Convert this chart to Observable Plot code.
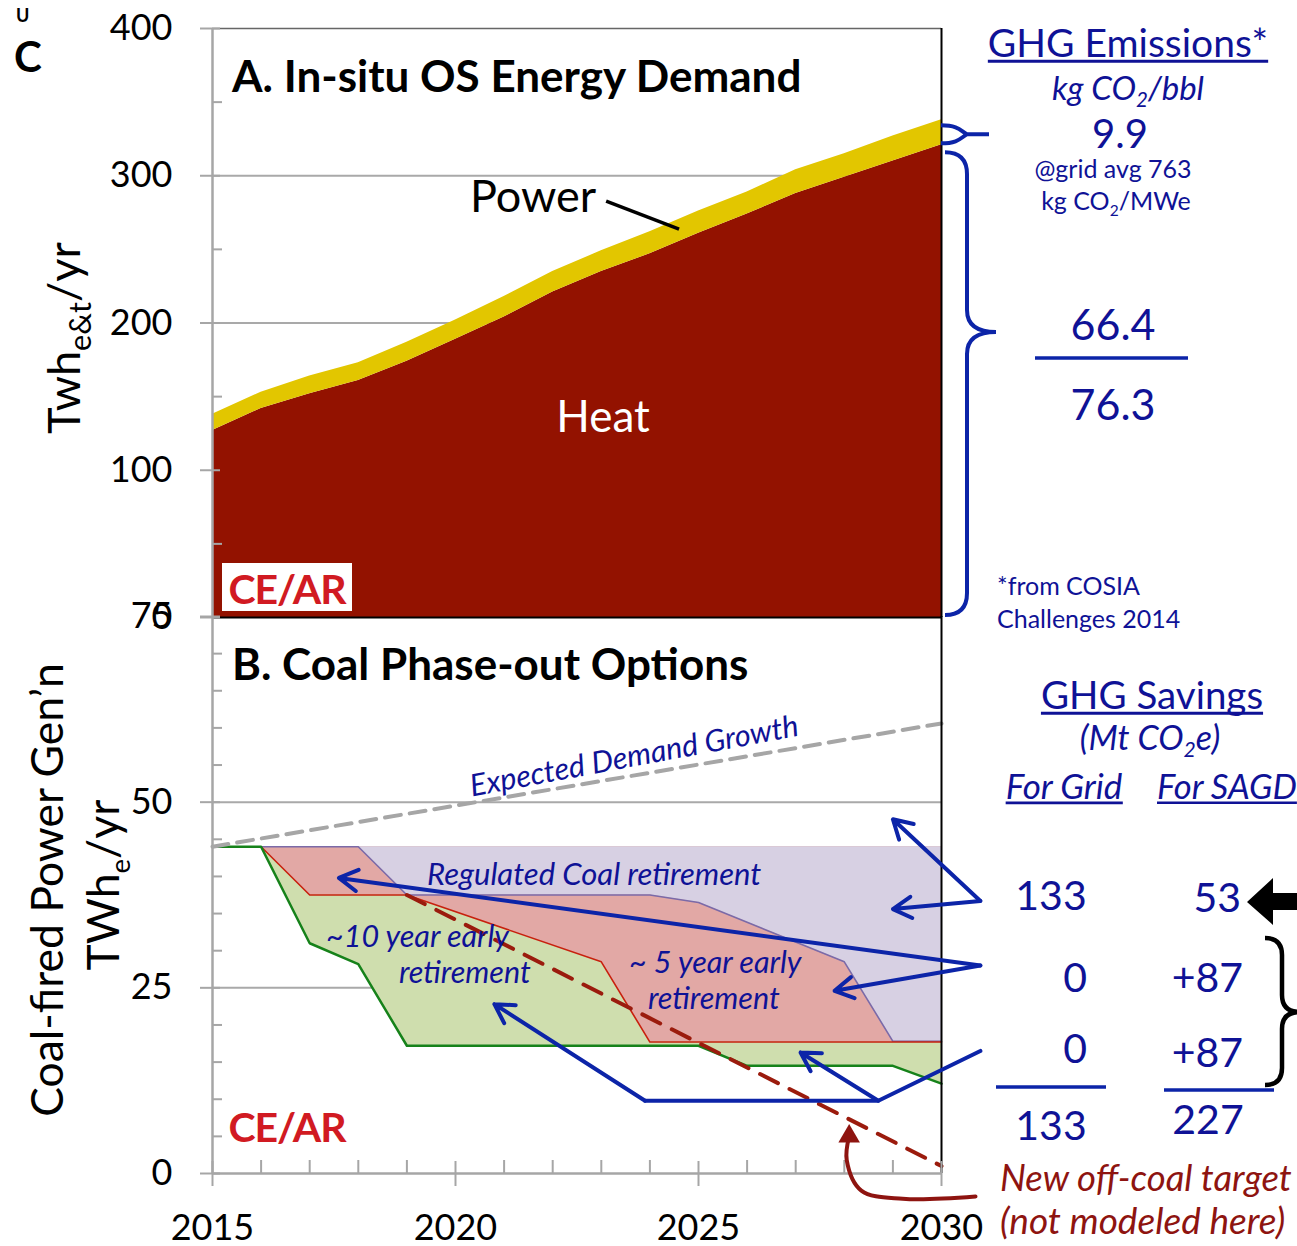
<!DOCTYPE html>
<html><head><meta charset="utf-8">
<script src="https://cdn.jsdelivr.net/npm/d3@7"></script>
<script src="https://cdn.jsdelivr.net/npm/@observablehq/plot@0.6"></script>
<style>
html,body{margin:0;padding:0;background:#fff;overflow:hidden;}
#wrap{position:relative;width:1297px;height:1246px;}
#wrap svg{position:absolute;left:0;top:0;}
</style></head><body><div id="wrap"></div>
<script>
// ---------- Panel A data: In-situ oil sands energy demand (TWh/yr) ----------
const years = [2015,2016,2017,2018,2019,2020,2021,2022,2023,2024,2025,2026,2027,2028,2029,2030];
const heatTWh = [127,142,152,161,174,189,204,221,235,247,261,274,288,299,310,321];
const powerTWh = [11,11,12,12,13,13,14,14,14,15,15,15,16,16,17,17];
const yTicksA = [0,100,200,300,400];
const yMinorA = [50,150,250,350];

// ---------- Panel B data: coal-fired power generation (TWhe/yr) ----------
const baseCoal = 44;
const regYears = [2015,2016,2018,2019,2024,2025,2028,2029,2030];
const regulatedCoal = [44,44,44,37.5,37.5,36.5,28.5,17.8,17.8];
const early5Years = [2015,2016,2017,2019,2023,2024,2030];
const early5Coal = [44,44,37.5,37.5,28.5,17.7,17.7];
const early10Years = [2015,2016,2017,2018,2019,2025,2026,2029,2030];
const early10Coal = [44,44,31,28.2,17.2,17.2,14.5,14.5,12.1];
const demandYears = [2015,2030];
const demandGrowth = [44,60.6];
const targetYears = [2019,2030];
const offCoalTarget = [37.5,1];
const yTicksB = [0,25,50,75];
const yMinorB = [5,10,15,20,30,35,40,45,55,60,65,70];
const xTicks = [2015,2020,2025,2030];
const xMinor = [2016,2017,2018,2019,2021,2022,2023,2024,2026,2027,2028,2029];

// ---------- annotation geometry (data coordinates) ----------
const powerPointer = {x1:2023.1, y1:282.7, x2:2024.6, y2:263.7};
const blueArrows = [
  {x1:2030.8, y1:36.7, x2:2029.0, y2:47.7},
  {x1:2030.8, y1:36.7, x2:2029.0, y2:35.6},
  {x1:2030.8, y1:28.0, x2:2017.6, y2:39.8},
  {x1:2030.8, y1:28.0, x2:2027.8, y2:24.6},
  {x1:2023.9, y1:9.8, x2:2020.8, y2:22.8},
  {x1:2028.7, y1:9.8, x2:2027.1, y2:16.3}
];
const bluePath = [{x:2030.8,y:16.5},{x:2028.7,y:9.8},{x:2023.9,y:9.8}];
const redCurve = [{x:2030.7,y:-3.1},{x:2029.2,y:-3.4},{x:2028.35,y:-2.3},{x:2028.05,y:1.8},{x:2028.1,y:5.0}];

// ---------- styles ----------
const W = 1297, H = 1246;
const FONT = "Lato, 'Open Sans', sans-serif";
const AXIS = "#a6a6a6", GRID = "#a9a9a9";
const HEAT = "#931200", POWER = "#e2c600";
const LAV = "#d7d0e3", PINK = "#e2a8a5", GREENF = "#cfdeae";
const PURP = "#7b6aa8", RED = "#c8200e", GREEN = "#16821a";
const BLUE_T = "#0f1296", BLUE_A = "#0c24a8", DRED = "#8e1410", DASHRED = "#9b1b0d";
const LOGO = "#d11a22";

const wrap = document.getElementById("wrap");

const topPlot = Plot.plot({
  width: W, height: H, marginLeft: 212, marginRight: 356, marginTop: 28, marginBottom: H - 617,
  style: {background: "transparent", overflow: "visible", fontFamily: FONT},
  x: {domain: [2015, 2030], axis: null},
  y: {domain: [0, 400], axis: null},
  marks: [
    Plot.ruleY([100, 200, 300], {stroke: GRID, strokeWidth: 2}),
    Plot.ruleY([400], {stroke: "#666", strokeWidth: 1.5}),
    Plot.areaY(years, {x: d => d, y1: 0, y2: (d, i) => heatTWh[i], fill: HEAT}),
    Plot.areaY(years, {x: d => d, y1: (d, i) => heatTWh[i], y2: (d, i) => heatTWh[i] + powerTWh[i], fill: POWER}),
    Plot.ruleX([2030], {stroke: "#000", strokeWidth: 2}),
    Plot.ruleY([0], {stroke: "#000", strokeWidth: 2}),
    Plot.ruleX([2015], {stroke: AXIS, strokeWidth: 2.5}),
    Plot.axisY(yTicksA, {anchor: "left", tickSize: 20, dx: 8, stroke: AXIS, strokeWidth: 2, fill: "none"}),
    Plot.axisY(yMinorA, {anchor: "left", tickSize: 10, dx: 10, stroke: AXIS, strokeWidth: 2, fill: "none"}),
    Plot.axisY(yTicksA, {anchor: "left", tickSize: 0, tickPadding: 40, fontSize: 36, fill: "#000", label: null}),
    Plot.link([powerPointer], {x1: "x1", y1: "y1", x2: "x2", y2: "y2", stroke: "#000", strokeWidth: 3.5})
  ]
});
wrap.appendChild(topPlot);

const botPlot = Plot.plot({
  width: W, height: H, marginLeft: 212, marginRight: 356, marginTop: 616, marginBottom: H - 1173,
  style: {background: "transparent", overflow: "visible", fontFamily: FONT},
  x: {domain: [2015, 2030], axis: null},
  y: {domain: [0, 75], axis: null},
  marks: [
    Plot.ruleY([25, 50], {stroke: GRID, strokeWidth: 2}),
    Plot.areaY(early10Years, {x: d => d, y1: (d, i) => early10Coal[i], y2: baseCoal, fill: GREENF}),
    Plot.areaY(early5Years, {x: d => d, y1: (d, i) => early5Coal[i], y2: baseCoal, fill: PINK}),
    Plot.areaY(regYears, {x: d => d, y1: (d, i) => regulatedCoal[i], y2: baseCoal, fill: LAV}),
    Plot.line(regYears, {x: d => d, y: (d, i) => regulatedCoal[i], stroke: PURP, strokeWidth: 1.6}),
    Plot.line(early5Years, {x: d => d, y: (d, i) => early5Coal[i], stroke: RED, strokeWidth: 1.6}),
    Plot.line(early10Years, {x: d => d, y: (d, i) => early10Coal[i], stroke: GREEN, strokeWidth: 2.5}),
    Plot.line(demandYears, {x: d => d, y: (d, i) => demandGrowth[i], stroke: "#a6a6a6", strokeWidth: 4, strokeDasharray: "16,9"}),
    Plot.line(targetYears, {x: d => d, y: (d, i) => offCoalTarget[i], stroke: DASHRED, strokeWidth: 4, strokeDasharray: "20,13"}),
    Plot.ruleX([2030], {stroke: "#000", strokeWidth: 2}),
    Plot.ruleX([2015], {stroke: AXIS, strokeWidth: 2.5}),
    Plot.ruleY([0], {stroke: AXIS, strokeWidth: 2.5}),
    Plot.axisY(yTicksB, {anchor: "left", tickSize: 20, dx: 8, stroke: AXIS, strokeWidth: 2, fill: "none"}),
    Plot.axisY(yMinorB, {anchor: "left", tickSize: 10, dx: 10, stroke: AXIS, strokeWidth: 2, fill: "none"}),
    Plot.axisY(yTicksB, {anchor: "left", tickSize: 0, tickPadding: 40, fontSize: 36, fill: "#000", label: null}),
    Plot.axisX(xTicks, {anchor: "bottom", tickSize: 25, dy: -12, stroke: AXIS, strokeWidth: 2, fill: "none"}),
    Plot.axisX(xMinor, {anchor: "bottom", tickSize: 13, dy: -13, stroke: AXIS, strokeWidth: 2, fill: "none"}),
    Plot.axisX(xTicks, {anchor: "bottom", tickSize: 0, tickPadding: 41, fontSize: 36, fill: "#000", label: null, tickFormat: d => String(d)}),
    Plot.arrow(blueArrows, {x1: "x1", y1: "y1", x2: "x2", y2: "y2", stroke: BLUE_A, strokeWidth: 4}),
    Plot.line(bluePath, {x: "x", y: "y", stroke: BLUE_A, strokeWidth: 4}),
    Plot.line(redCurve, {x: "x", y: "y", curve: "catmull-rom", stroke: DRED, strokeWidth: 4}),
    Plot.dot([redCurve[redCurve.length - 1]], {x: "x", y: "y", symbol: "triangle", r: 8, fill: DRED, stroke: null})
  ]
});
wrap.appendChild(botPlot);

// ---------- text helper ----------
function addText(svg, o) {
  const {x, y, parts, size = 36, anchor = "start", weight = "normal", italic = false,
         fill = "#000", rotate = 0, underline = false, spacing = 0, sub = 0.62, subShift = 0.25} = o;
  const g = d3.select(svg);
  const t = g.append("text").attr("x", x).attr("y", y)
    .attr("font-family", FONT).attr("font-size", size).attr("font-weight", weight)
    .attr("font-style", italic ? "italic" : "normal").attr("fill", fill)
    .attr("text-anchor", anchor).attr("letter-spacing", spacing);
  if (rotate) t.attr("transform", `rotate(${rotate},${x},${y})`);
  const segs = typeof parts === "string" ? [parts] : parts;
  let shifted = false;
  for (const s of segs) {
    if (Array.isArray(s)) {
      t.append("tspan").attr("font-size", size * sub).attr("dy", size * subShift).text(s[0]);
      shifted = true;
    } else {
      const ts = t.append("tspan").text(s);
      if (shifted) { ts.attr("dy", -size * subShift); shifted = false; }
    }
  }
  if (underline) {
    const bb = t.node().getBBox();
    g.append("line").attr("x1", bb.x).attr("x2", bb.x + bb.width)
      .attr("y1", y + size * 0.11).attr("y2", y + size * 0.11)
      .attr("stroke", fill).attr("stroke-width", size * 0.075);
  }
  return t;
}

// ---------- Panel A annotations ----------
const sA = d3.select(topPlot);
addText(topPlot, {x: 14, y: 72, parts: "C", size: 42, weight: "bold"});
addText(topPlot, {x: 16, y: 22, parts: "U", size: 18, weight: "bold"});
addText(topPlot, {x: 232, y: 92, parts: "A. In-situ OS Energy Demand", size: 44, weight: "bold"});
addText(topPlot, {x: 470, y: 212, parts: "Power", size: 45});
addText(topPlot, {x: 603, y: 432, parts: "Heat", size: 44, anchor: "middle", fill: "#fff"});
addText(topPlot, {x: 80, y: 338, parts: ["Twh", ["e&t"], "/yr"], size: 45, anchor: "middle", rotate: -90, sub: 0.68});
sA.append("rect").attr("x", 222).attr("y", 563).attr("width", 130).attr("height", 48).attr("fill", "#fff");
addText(topPlot, {x: 287, y: 604, parts: "CE/AR", size: 41, weight: "bold", fill: LOGO, anchor: "middle", spacing: -1});

// braces from the scales
const sx = topPlot.scale("x"), sy = topPlot.scale("y");
const x0 = sx.apply(2030);
const yTot = sy.apply(heatTWh[15] + powerTWh[15]) + 6;
const yHeat = sy.apply(heatTWh[15]) - 1;
const ym = (yTot + yHeat) / 2;
sA.append("path")
  .attr("d", `M${x0},${yTot} C${x0+18},${yTot} ${x0+20},${ym-3} ${x0+26},${ym} L${x0+48},${ym} M${x0},${yHeat} C${x0+18},${yHeat} ${x0+20},${ym+3} ${x0+26},${ym}`)
  .attr("fill", "none").attr("stroke", BLUE_A).attr("stroke-width", 4);
const bt = sy.apply(heatTWh[15]) + 8, bb = sy.apply(0) - 2, tip = 332, vx = x0 + 26;
sA.append("path")
  .attr("d", `M${x0+4},${bt} Q${vx},${bt} ${vx},${bt+22} L${vx},${tip-22} Q${vx},${tip} ${x0+55},${tip} Q${vx},${tip} ${vx},${tip+22} L${vx},${bb-22} Q${vx},${bb} ${x0+4},${bb}`)
  .attr("fill", "none").attr("stroke", BLUE_A).attr("stroke-width", 4);

addText(topPlot, {x: 1128, y: 57, parts: "GHG Emissions*", size: 39, anchor: "middle", fill: BLUE_T, underline: true});
addText(topPlot, {x: 1128, y: 100, parts: ["kg CO", ["2"], "/bbl"], size: 33, italic: true, anchor: "middle", fill: BLUE_T, subShift: 0.2});
addText(topPlot, {x: 1120, y: 148, parts: "9.9", size: 40, anchor: "middle", fill: BLUE_T});
addText(topPlot, {x: 1113, y: 178, parts: "@grid avg 763", size: 25, anchor: "middle", fill: BLUE_T});
addText(topPlot, {x: 1116, y: 210, parts: ["kg CO", ["2"], "/MWe"], size: 25, anchor: "middle", fill: BLUE_T});
addText(topPlot, {x: 1113, y: 340, parts: "66.4", size: 43, anchor: "middle", fill: BLUE_T});
sA.append("line").attr("x1", 1035).attr("x2", 1188).attr("y1", 358).attr("y2", 358).attr("stroke", BLUE_A).attr("stroke-width", 3.5);
addText(topPlot, {x: 1113, y: 420, parts: "76.3", size: 43, anchor: "middle", fill: BLUE_T});
addText(topPlot, {x: 997, y: 595, parts: "*from COSIA", size: 25, fill: BLUE_T});
addText(topPlot, {x: 997, y: 628, parts: "Challenges 2014", size: 25, fill: BLUE_T});

// ---------- Panel B annotations ----------
const sB = d3.select(botPlot);
addText(botPlot, {x: 232, y: 680, parts: "B. Coal Phase-out Options", size: 44, weight: "bold"});
addText(botPlot, {x: 63, y: 890, parts: "Coal-fired Power Gen\u2019n", size: 44.5, anchor: "middle", rotate: -90});
addText(botPlot, {x: 119, y: 885, parts: ["TWh", ["e"], "/yr"], size: 44.5, anchor: "middle", rotate: -90});
addText(botPlot, {x: 636, y: 766, parts: "Expected Demand Growth", size: 30.5, italic: true, anchor: "middle", fill: BLUE_T, rotate: -10.5});
addText(botPlot, {x: 427, y: 885, parts: "Regulated Coal retirement", size: 31, italic: true, fill: BLUE_T});
addText(botPlot, {x: 326, y: 947, parts: "~10 year early", size: 30.5, italic: true, fill: BLUE_T});
addText(botPlot, {x: 399, y: 983, parts: "retirement", size: 30.5, italic: true, fill: BLUE_T});
addText(botPlot, {x: 629, y: 973, parts: "~ 5 year early", size: 30.5, italic: true, fill: BLUE_T});
addText(botPlot, {x: 648, y: 1009, parts: "retirement", size: 30.5, italic: true, fill: BLUE_T});
addText(botPlot, {x: 287, y: 1142, parts: "CE/AR", size: 41, weight: "bold", fill: LOGO, anchor: "middle", spacing: -1});

addText(botPlot, {x: 1152, y: 709, parts: "GHG Savings", size: 38.5, anchor: "middle", fill: BLUE_T, underline: true});
addText(botPlot, {x: 1150, y: 750, parts: ["(Mt CO", ["2"], "e)"], size: 34, italic: true, anchor: "middle", fill: BLUE_T, subShift: 0.2});
addText(botPlot, {x: 1064, y: 799, parts: "For Grid", size: 35, italic: true, anchor: "middle", fill: BLUE_T, underline: true});
addText(botPlot, {x: 1157, y: 799, parts: "For SAGD", size: 34.5, italic: true, fill: BLUE_T, underline: true});
addText(botPlot, {x: 1051, y: 910, parts: "133", size: 41, anchor: "middle", fill: BLUE_T});
addText(botPlot, {x: 1241, y: 912, parts: "53", size: 41, anchor: "end", fill: BLUE_T});
addText(botPlot, {x: 1087, y: 992, parts: "0", size: 41, anchor: "end", fill: BLUE_T});
addText(botPlot, {x: 1243, y: 992, parts: "+87", size: 41, anchor: "end", fill: BLUE_T});
addText(botPlot, {x: 1087, y: 1063, parts: "0", size: 41, anchor: "end", fill: BLUE_T});
addText(botPlot, {x: 1243, y: 1067, parts: "+87", size: 41, anchor: "end", fill: BLUE_T});
sB.append("line").attr("x1", 996).attr("x2", 1106).attr("y1", 1087).attr("y2", 1087).attr("stroke", BLUE_A).attr("stroke-width", 3.5);
sB.append("line").attr("x1", 1164).attr("x2", 1274).attr("y1", 1090).attr("y2", 1090).attr("stroke", BLUE_A).attr("stroke-width", 3.5);
addText(botPlot, {x: 1051, y: 1140, parts: "133", size: 41, anchor: "middle", fill: BLUE_T});
addText(botPlot, {x: 1208, y: 1134, parts: "227", size: 41, anchor: "middle", fill: BLUE_T});
addText(botPlot, {x: 1000, y: 1191, parts: "New off-coal target", size: 36.5, italic: true, fill: DRED});
addText(botPlot, {x: 1000, y: 1234, parts: "(not modeled here)", size: 37, italic: true, fill: DRED});

// black arrow and brace on the right edge
sB.append("polygon").attr("points", "1247,902 1273,878 1273,893 1297,893 1297,910 1273,910 1273,925").attr("fill", "#000");
sB.append("path")
  .attr("d", "M1265,938 Q1282,938 1282,955 L1282,995 Q1282,1012 1300,1012 Q1282,1012 1282,1029 L1282,1068 Q1282,1085 1265,1085")
  .attr("fill", "none").attr("stroke", "#000").attr("stroke-width", 4.5);
</script>
</body></html>
